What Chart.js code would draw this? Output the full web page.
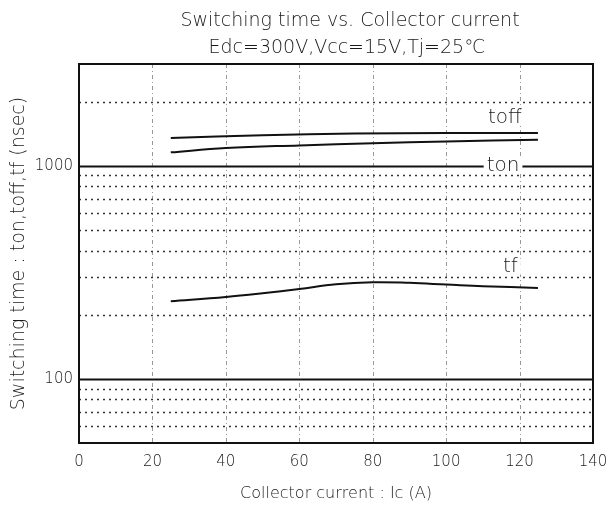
<!DOCTYPE html>
<html><head><meta charset="utf-8">
<script src="https://cdn.jsdelivr.net/npm/chart.js@4"></script>
<style>html,body{margin:0;padding:0;background:#fff}#wrap{width:608px;height:511px}</style>
</head><body><div id="wrap"><canvas id="c"></canvas></div>
<script>
const titleLines = ['Switching time vs. Collector current', 'Edc=300V,Vcc=15V,Tj=25\u2103'];
const xTitle = 'Collector current : Ic (A)';
const yTitle = 'Switching time : ton,toff,tf (nsec)';
const xTickValues = [0, 20, 40, 60, 80, 100, 120, 140];
const yGridValues = [60, 70, 80, 90, 100, 200, 300, 400, 500, 600, 700, 800, 900, 1000, 2000];
const yLabelled = [100, 1000];
const toffX = [25, 50, 75, 100, 125];
const toffY = [1350, 1390, 1415, 1422, 1425];
const tonX = [25, 40, 60, 80, 100, 125];
const tonY = [1155, 1210, 1245, 1275, 1300, 1325];
const tfX = [25, 40, 50, 60, 70, 80, 90, 100, 110, 125];
const tfY = [231, 242, 252, 264, 278, 284, 282, 277, 272, 267];
const curveLabels = ['toff', 'ton', 'tf'];
const curveLabelX = [116, 115.5, 117.5];
const curveLabelY = [1680, 1000, 336];

const pts = (xs, ys) => xs.map((x, i) => ({x, y: ys[i]}));
const FONT = "'DejaVu Sans', 'Liberation Sans', sans-serif";
const TXT = '#1a1a1a';

const gridPlugin = {
  id: 'gridPlugin',
  beforeDatasetsDraw(chart) {
    const {ctx, chartArea: a, scales: {x, y}} = chart;
    ctx.save();
    ctx.strokeStyle = '#999';
    ctx.lineWidth = 1;
    ctx.setLineDash([4, 3, 1, 3]);
    x.ticks.forEach(t => {
      if (t.value <= x.min || t.value >= x.max) return;
      const px = Math.round(x.getPixelForValue(t.value)) + 0.5;
      ctx.beginPath(); ctx.moveTo(px, a.top); ctx.lineTo(px, a.bottom); ctx.stroke();
    });
    y.ticks.forEach(t => {
      if (t.value <= y.min || t.value >= y.max) return;
      const py = Math.round(y.getPixelForValue(t.value)) + 0.5;
      if (yLabelled.includes(t.value)) {
        ctx.setLineDash([]); ctx.strokeStyle = '#111'; ctx.lineWidth = 2;
      } else {
        ctx.setLineDash([2, 4]); ctx.strokeStyle = '#333'; ctx.lineWidth = 1.5;
      }
      ctx.beginPath(); ctx.moveTo(a.left, py); ctx.lineTo(a.right, py); ctx.stroke();
    });
    ctx.setLineDash([]); ctx.strokeStyle = '#111'; ctx.lineWidth = 2;
    ctx.strokeRect(a.left, a.top, a.right - a.left, a.bottom - a.top);
    ctx.restore();
  },
  afterDatasetsDraw(chart) {
    const {ctx, scales: {x, y}} = chart;
    ctx.save();
    ctx.font = '200 20px ' + FONT;
    ctx.textAlign = 'center';
    ctx.textBaseline = 'middle';
    curveLabels.forEach((s, i) => {
      const px = x.getPixelForValue(curveLabelX[i]);
      const py = y.getPixelForValue(curveLabelY[i]);
      const w = ctx.measureText(s).width;
      ctx.fillStyle = '#fff';
      ctx.fillRect(px - w / 2 - 3, py - 8, w + 6, 16);
      ctx.fillStyle = TXT;
      ctx.fillText(s, px, py);
    });
    ctx.font = '200 19px ' + FONT;
    ctx.textBaseline = 'alphabetic';
    ctx.fillText(titleLines[0], 350, 26);
    ctx.fillText(titleLines[1], 347, 53);
    ctx.restore();
  }
};

const lineDs = (label, data) => ({label, data, borderColor: '#111', borderWidth: 2, pointRadius: 0, tension: 0.4, fill: false});

new Chart(document.getElementById('c'), {
  type: 'line',
  data: {datasets: [lineDs('toff', pts(toffX, toffY)), lineDs('ton', pts(tonX, tonY)), lineDs('tf', pts(tfX, tfY))]},
  options: {
    responsive: true, maintainAspectRatio: false, animation: false,
    layout: {padding: {left: 4, right: 15, top: 64, bottom: 4}},
    plugins: {legend: {display: false}, tooltip: {enabled: false}, title: {display: false}},
    scales: {
      x: {
        type: 'linear', min: 0, max: 140,
        afterBuildTicks: s => { s.ticks = xTickValues.map(v => ({value: v})); },
        grid: {display: false, drawTicks: false},
        border: {display: false},
        ticks: {color: TXT, font: {family: FONT, size: 15, weight: 200}, padding: 10},
        title: {display: true, text: xTitle, color: TXT, font: {family: FONT, size: 16, weight: 200}, padding: {top: 10}},
        afterFit: s => { s.height = 64; s.paddingLeft = 0; s.paddingRight = 0; }
      },
      y: {
        type: 'logarithmic', min: 50, max: 3000,
        afterBuildTicks: s => { s.ticks = yGridValues.map(v => ({value: v})); },
        grid: {display: false, drawTicks: false},
        border: {display: false},
        ticks: {color: TXT, font: {family: FONT, size: 15, weight: 200}, padding: 6, autoSkip: false,
          callback: v => yLabelled.includes(v) ? String(v) : ''},
        title: {display: true, text: yTitle, color: TXT, font: {family: FONT, size: 19, weight: 200}, padding: {bottom: 2}},
        afterFit: s => { s.width = 75; s.paddingTop = 0; s.paddingBottom = 0; }
      }
    }
  },
  plugins: [gridPlugin]
});
</script></body></html>
